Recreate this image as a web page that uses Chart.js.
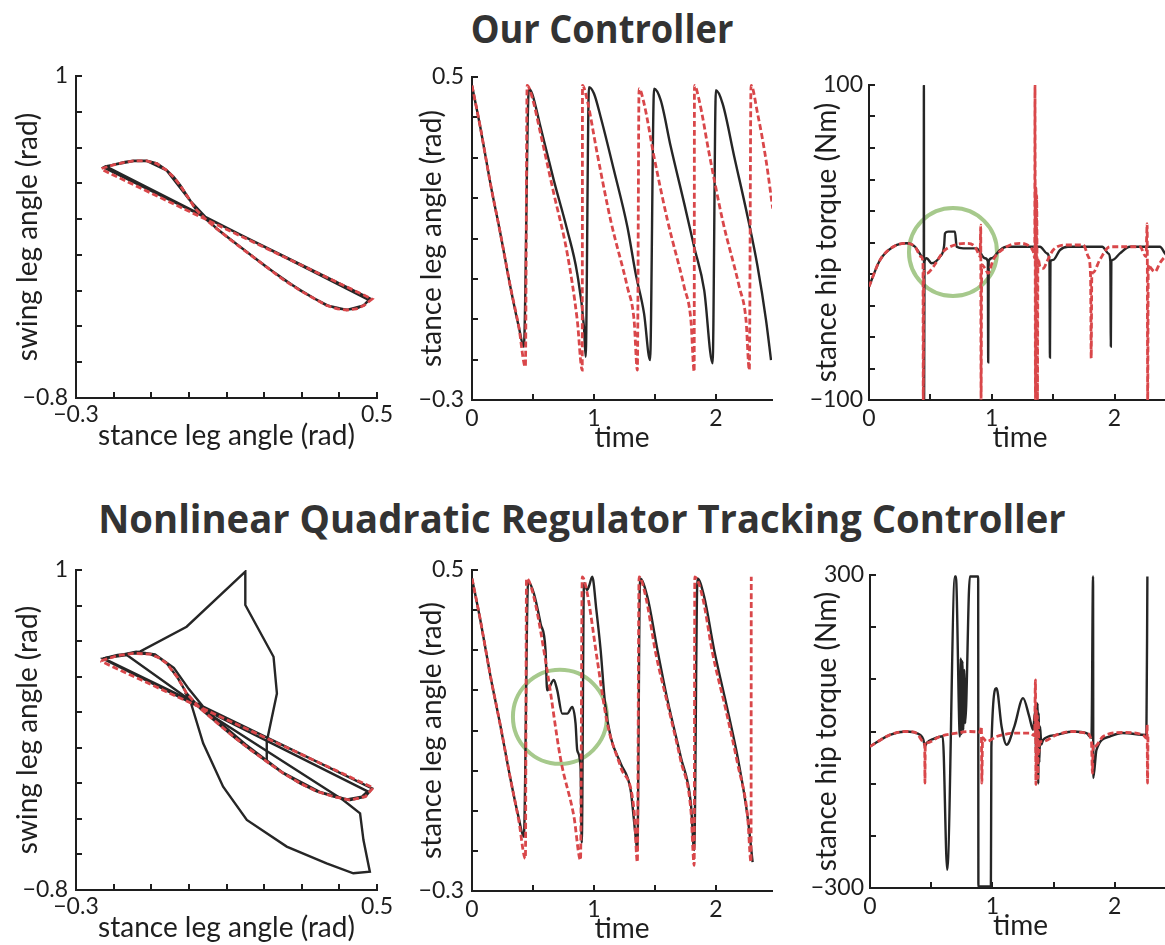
<!DOCTYPE html>
<html>
<head>
<meta charset="utf-8">
<script src="https://cdn.jsdelivr.net/npm/chart.js@4.4.1/dist/chart.umd.min.js"></script>
<style>
  html, body { margin: 0; padding: 0; background: #fff; }
  body { width: 1165px; height: 945px; overflow: hidden; position: relative; }
  canvas { position: absolute; }
  .ttl { position: absolute; white-space: nowrap; font-family: 'Open Sans', sans-serif; font-weight: 700; color: #333; line-height: 1; }
</style>
</head>
<body>
<div class="ttl" id="t1" style="left:602px; top:8px; font-size:39px; transform:translateX(-50%) scaleX(0.93);">Our Controller</div>
<div class="ttl" id="t2" style="left:582px; top:498px; font-size:39px; transform:translateX(-50%) scaleX(0.98);">Nonlinear Quadratic Regulator Tracking Controller</div>
<canvas id="c1" width="402" height="393" style="left:0px; top:60px;"></canvas>
<canvas id="c2" width="401" height="395" style="left:396px; top:60px;"></canvas>
<canvas id="c3" width="403" height="395" style="left:793px; top:60px;"></canvas>
<canvas id="c4" width="402" height="395" style="left:0px; top:550px;"></canvas>
<canvas id="c5" width="401" height="396" style="left:396px; top:550px;"></canvas>
<canvas id="c6" width="402" height="393" style="left:794px; top:550px;"></canvas>
<script>
// ---------------- DATA ----------------
// Panel 1: swing vs stance leg angle, "Our Controller"
const p1Black = [
  [-0.227,0.489],[-0.20,0.505],[-0.17,0.520],[-0.147,0.527],[-0.112,0.527],[-0.085,0.512],[-0.059,0.474],[-0.040,0.435],
  [-0.023,0.390],[0.003,0.306],[0.017,0.260],[0.045,0.200],[0.074,0.148],[0.119,0.073],[0.163,0.003],[0.207,-0.067],
  [0.250,-0.135],[0.296,-0.197],[0.335,-0.245],[0.367,-0.281],[0.395,-0.300],[0.420,-0.306],[0.445,-0.300],[0.465,-0.281],
  [0.482,-0.244],[-0.227,0.489],
  [-0.222,0.495],[-0.147,0.525],[-0.112,0.525],[-0.059,0.472],[0.003,0.304],[0.074,0.146],[0.207,-0.069],[0.296,-0.199],
  [0.367,-0.283],[0.420,-0.308],[0.465,-0.283],[0.478,-0.252],[-0.222,0.497]
];
const p1Red = [
  [-0.232,0.483],[-0.20,0.503],[-0.17,0.518],[-0.147,0.525],[-0.112,0.525],[-0.085,0.510],[-0.059,0.472],[-0.040,0.433],
  [-0.023,0.388],[0.003,0.304],[0.017,0.258],[0.045,0.198],[0.074,0.146],[0.119,0.071],[0.163,0.001],[0.207,-0.069],
  [0.250,-0.137],[0.296,-0.199],[0.335,-0.247],[0.367,-0.283],[0.395,-0.302],[0.420,-0.308],[0.445,-0.302],[0.465,-0.283],
  [0.487,-0.247],[-0.232,0.478]
];
// Panel 2: stance leg angle vs time, "Our Controller"
const p2Black = [
  [0,0.479],[0.068,0.376],[0.151,0.236],[0.233,0.112],[0.315,-0.020],[0.384,-0.119],[0.425,-0.168],
  [0.466,0.471],[0.493,0.459],[0.562,0.376],[0.671,0.244],[0.781,0.121],[0.863,0.013],[0.918,-0.119],[0.932,-0.193],
  [0.959,0.475],[1.0,0.459],[1.055,0.401],[1.164,0.269],[1.274,0.129],[1.342,0.013],[1.411,-0.086],[1.460,-0.201],
  [1.493,0.471],[1.548,0.442],[1.630,0.327],[1.740,0.187],[1.822,0.079],[1.904,-0.028],[1.973,-0.209],
  [2.0,0.467],[2.055,0.434],[2.151,0.302],[2.260,0.154],[2.342,0.030],[2.411,-0.102],[2.452,-0.201]
];
const p2Red = [
  [0,0.479],[0.068,0.376],[0.151,0.236],[0.233,0.112],[0.315,-0.020],[0.384,-0.119],[0.438,-0.218],
  [0.452,0.479],[0.493,0.450],[0.562,0.360],[0.671,0.211],[0.781,0.063],[0.863,-0.102],[0.904,-0.226],
  [0.906,0.479],[0.945,0.442],[1.027,0.310],[1.137,0.145],[1.274,-0.020],[1.329,-0.102],[1.356,-0.226],
  [1.370,0.471],[1.411,0.434],[1.493,0.302],[1.603,0.145],[1.740,-0.020],[1.795,-0.102],[1.822,-0.230],
  [1.824,0.479],[1.863,0.442],[1.945,0.310],[2.055,0.145],[2.192,-0.020],[2.247,-0.102],[2.274,-0.226],
  [2.288,0.479],[2.342,0.409],[2.411,0.294],[2.466,0.174]
];
// Panel 3: stance hip torque vs time, "Our Controller"
const p3Black = [
  [0,-28],[0.09,-11.1],[0.198,-2.7],[0.307,-0.5],[0.375,-2.7],[0.429,-9],[0.446,-11],[0.447,100],[0.449,-100],[0.452,-12],
  [0.47,-10],[0.51,-13.2],[0.578,-9],[0.612,-2],[0.619,5.8],[0.646,6.9],[0.70,6.9],[0.714,-2.7],[0.768,-3.7],[0.877,-3.7],
  [0.945,-10],[0.968,-12],[0.971,-76],[0.975,-12],[0.999,-10],[1.067,-4.8],[1.12,-2.7],[1.393,-2.7],[1.45,-7],[1.470,-12],
  [1.474,-73],[1.478,-12],[1.50,-11],[1.555,-4.8],[1.62,-2.7],[1.90,-2.7],[1.95,-7],[1.966,-12],[1.970,-66],[1.974,-12],
  [1.984,-11],[2.044,-6.9],[2.125,-2.7],[2.37,-2.7],[2.41,-6.9],[2.46,-12]
];
const p3Red = [
  [0,-28],[0.09,-11.1],[0.198,-2.7],[0.307,-0.5],[0.375,-2.7],[0.425,-9],[0.440,-14],[0.442,-100],[0.446,-18],[0.47,-19.6],
  [0.524,-15.4],[0.605,-5.8],[0.66,-2.7],[0.796,-0.5],[0.863,-2.7],[0.89,-6.9],[0.905,-9],[0.910,11],[0.913,-100],[0.918,-14],
  [0.945,-16.4],[0.97,-19.6],[1.012,-11],[1.10,-3.7],[1.23,-0.5],[1.311,-2.7],[1.338,-5.8],[1.350,-10],[1.352,100],[1.356,-100],
  [1.360,35],[1.363,-22],[1.366,30],[1.369,-20],[1.372,-100],[1.376,-10],[1.393,-15.4],[1.42,-16.4],[1.45,-12],[1.50,-4.8],
  [1.61,-1.6],[1.745,-1.6],[1.786,-9],[1.805,-21.7],[1.810,-73.5],[1.815,-21],[1.826,-19],[1.88,-11],[1.962,-2.7],[2.207,-2.7],
  [2.256,-9],[2.266,12],[2.270,-100],[2.275,-14],[2.288,-15.4],[2.329,-18.6],[2.37,-13],[2.41,-9],[2.46,-5]
];
const p3Circle = [[0.684,-6]];
// Panel 4: swing vs stance leg angle, NQR controller
const p4Black1 = [
  [-0.227,0.503],[-0.19,0.522],[-0.147,0.531],[-0.103,0.527],[-0.080,0.507],[-0.059,0.475],[-0.030,0.395],[-0.006,0.306],
  [0.030,0.222],[0.075,0.140],[0.119,0.062],[0.163,-0.010],[0.207,-0.078],[0.250,-0.142],[0.296,-0.2],[0.340,-0.245],
  [0.385,-0.275],[0.429,-0.294],[0.469,-0.275],[0.487,-0.228],[-0.227,0.503],
  [-0.14,0.54],[-0.09,0.525],[-0.04,0.45],[0.0,0.33],[0.05,0.2],[0.15,0.02],[0.25,-0.14],[0.35,-0.25],[0.42,-0.29],
  [0.46,-0.275],[0.475,-0.245],[-0.227,0.50]
];
const p4Black2 = [
  [-0.227,0.503],[-0.130,0.541],[-0.006,0.681],[0.150,0.991],[0.150,0.803],[0.225,0.512],[0.234,0.306],[0.207,0.034],[0.207,-0.078]
];
const p4Black3 = [
  [-0.227,0.503],[-0.165,0.522],[0.065,0.175],[0.41,-0.294],[0.455,-0.369],[0.464,-0.519],[0.481,-0.697],[0.437,-0.706],
  [0.366,-0.65],[0.26,-0.556],[0.154,-0.406],[0.091,-0.219],[0.038,0.025],[0.003,0.269],[-0.01,0.31]
];
const p4Red = [
  [-0.232,0.49],[-0.19,0.518],[-0.147,0.531],[-0.103,0.527],[-0.080,0.507],[-0.059,0.475],[-0.030,0.395],[-0.006,0.306],
  [0.030,0.222],[0.075,0.140],[0.119,0.062],[0.163,-0.010],[0.207,-0.078],[0.250,-0.142],[0.296,-0.2],[0.340,-0.245],
  [0.385,-0.275],[0.429,-0.294],[0.469,-0.275],[0.49,-0.225],[-0.235,0.488]
];
// Panel 5: stance leg angle vs time, NQR controller
const p5Black = [
  [0,0.479],[0.068,0.376],[0.151,0.236],[0.233,0.112],[0.315,-0.020],[0.384,-0.119],[0.425,-0.165],
  [0.46,0.471],[0.507,0.442],[0.562,0.367],[0.603,0.30],[0.616,0.20],[0.671,0.226],[0.699,0.2],[0.74,0.142],[0.781,0.142],
  [0.822,0.159],[0.849,0.118],[0.863,0.051],[0.89,0.009],[0.90,-0.18],
  [0.918,0.467],[0.945,0.45],[0.96,0.46],[0.986,0.483],[1.02,0.40],[1.055,0.30],[1.09,0.17],[1.137,0.084],[1.219,0.018],
  [1.301,-0.049],[1.342,-0.165],[1.356,-0.198],
  [1.378,0.479],[1.438,0.433],[1.521,0.30],[1.603,0.176],[1.712,0.034],[1.795,-0.082],[1.822,-0.198],
  [1.849,0.479],[1.904,0.433],[1.986,0.30],[2.096,0.151],[2.178,0.034],[2.26,-0.115],[2.301,-0.228]
];
const p5Red = [
  [0,0.479],[0.068,0.376],[0.151,0.236],[0.233,0.112],[0.315,-0.020],[0.384,-0.125],[0.438,-0.219],
  [0.447,0.479],[0.507,0.433],[0.616,0.25],[0.726,0.03],[0.836,-0.115],[0.89,-0.223],
  [0.904,0.483],[0.945,0.442],[1.027,0.276],[1.11,0.117],[1.219,0.009],[1.329,-0.099],[1.356,-0.228],
  [1.37,0.483],[1.425,0.433],[1.507,0.292],[1.603,0.167],[1.712,0.025],[1.795,-0.099],[1.822,-0.236],
  [1.827,0.483],[1.89,0.433],[1.973,0.292],[2.082,0.151],[2.178,0.017],[2.26,-0.115],[2.288,-0.228],[2.29,0.483]
];
const p5Circle = [[0.721,0.134]];
// Panel 6: stance hip torque vs time, NQR controller
const p6Black = [
  [0,-28.8],[0.163,-6.4],[0.299,0],[0.381,-3.2],[0.435,-15],[0.449,-28],[0.463,-22],[0.52,-14],[0.594,-9],[0.631,-265],
  [0.694,297],[0.702,297],[0.735,-9.6],[0.742,140],[0.748,-5],[0.755,135],[0.762,3],[0.770,118],[0.778,16],[0.816,297],
  [0.884,297],[0.886,-297],[0.988,-297],[0.992,-30],[1.034,83],[1.075,10],[1.116,-25.5],[1.18,10],[1.251,64],[1.30,30],
  [1.333,3.2],[1.35,40],[1.36,-60],[1.369,54],[1.375,-100],[1.378,35],[1.384,-60],[1.39,9.5],[1.40,-25],[1.415,-16],
  [1.524,-6.4],[1.66,0],[1.769,-3.2],[1.81,-12],[1.823,297],[1.825,-89],[1.851,-35],[1.959,-9.6],[2.065,-3],[2.259,-6.4],[2.267,297]
];
const p6Red = [
  [0,-28.8],[0.163,-6.4],[0.299,0],[0.381,-3.2],[0.435,-19],[0.447,-25],[0.449,-99],[0.452,-25],[0.463,-22],[0.571,-9.6],
  [0.707,-3.2],[0.816,0],[0.90,-1],[0.91,9.5],[0.914,-99],[0.92,-12],[0.952,-19],[1.034,-9.6],[1.197,-3.2],[1.306,-3.2],
  [1.345,-8],[1.352,99],[1.356,-102],[1.36,40],[1.364,-60],[1.368,30],[1.372,-90],[1.376,20],[1.38,-40],[1.39,-20],
  [1.415,-19],[1.524,-6.4],[1.66,0],[1.769,-3.2],[1.81,-19],[1.818,-80],[1.824,-25],[1.837,-28.7],[1.905,-9.6],[2.068,-1.9],
  [2.231,-6.4],[2.259,-12.8],[2.265,12.8],[2.268,-99],[2.272,-10]
];
// Axis ranges and tick steps
const angleX = {min: -0.3, max: 0.5, step: 0.1};
const swingY = {min: -0.8, max: 1, step: 0.2};
const timeX = {min: 0, max: 2.46, step: 0.5};
const stanceY = {min: -0.3, max: 0.5, step: 0.1};
const torqueY1 = {min: -100, max: 100, step: 20};
const torqueY2 = {min: -300, max: 300, step: 100};

// ---------------- STYLE ----------------
const FONT = "Lato, 'Open Sans', sans-serif";
const AX = '#1e1e1e';
const BLACK = '#262626';
const RED = '#d9474a';
const GREEN = '#a6c98c';
const TICK_LEN = 6;

const fmt = v => String(+(+v).toFixed(3)).replace('-', '\u2212');
const endsOnly = r => (v) => (Math.abs(v - r.min) < 1e-9 || Math.abs(v - r.max) < 1e-9) ? fmt(v) : '';
const integersOnly = (v) => Math.abs(v - Math.round(v)) < 1e-9 ? fmt(v) : '';

function axis(r, isX, title, box, gap, titlePad, labelFn) {
  return {
    type: 'linear', position: isX ? 'bottom' : 'left',
    min: r.min, max: r.max,
    border: {display: true, color: AX, width: 2},
    grid: {display: true, drawOnChartArea: false, drawTicks: true, tickLength: -TICK_LEN, color: AX, lineWidth: 2},
    ticks: {
      stepSize: r.step, autoSkip: false, includeBounds: false, maxRotation: 0, minRotation: 0,
      padding: gap + TICK_LEN, color: AX, font: {family: FONT, size: 23}, callback: labelFn
    },
    title: {
      display: true, text: title, color: AX, font: {family: FONT, size: 28},
      padding: isX ? {top: 0, bottom: titlePad} : {top: titlePad, bottom: 0}
    },
    afterFit: s => {
      if (isX) s.height = box; else s.width = box;
      s.paddingLeft = 0; s.paddingRight = 0; s.paddingTop = 0; s.paddingBottom = 0;
    }
  };
}

const pts = arr => arr.map(([x, y]) => ({x, y}));
const blackDs = (arr, smooth) => ({data: pts(arr), showLine: true, borderColor: BLACK, borderWidth: 2.4, pointRadius: 0,
  tension: 0, cubicInterpolationMode: smooth ? 'monotone' : 'default', fill: false});
const redDs = (arr, smooth) => ({data: pts(arr), showLine: true, borderColor: RED, borderWidth: 2.8, borderDash: [6, 3], pointRadius: 0,
  tension: 0, cubicInterpolationMode: smooth ? 'monotone' : 'default', fill: false});
const circleDs = (arr, r) => ({data: pts(arr), showLine: false, pointRadius: r, pointHoverRadius: r, pointStyle: 'circle',
  pointBorderColor: GREEN, pointBackgroundColor: 'rgba(0,0,0,0)', pointBorderWidth: 4, clip: false});

function make(id, padTop, datasets, xAx, yAx) {
  new Chart(document.getElementById(id), {
    type: 'scatter',
    data: {datasets},
    options: {
      responsive: false, animation: false, events: [],
      layout: {autoPadding: false, padding: {top: padTop, right: 25, left: 0, bottom: 0}},
      plugins: {legend: {display: false}, tooltip: {enabled: false}},
      scales: {x: xAx, y: yAx}
    }
  });
}

make('c1', 16, [redDs(p1Red), blackDs(p1Black)],
  axis(angleX, true, 'stance leg angle (rad)', 55, 3, 0, endsOnly(angleX)),
  axis(swingY, false, 'swing leg angle (rad)', 76, 8, 11, endsOnly(swingY)));
make('c2', 17, [redDs(p2Red, true), blackDs(p2Black, true)],
  axis(timeX, true, 'time', 55, 5, 0, integersOnly),
  axis(stanceY, false, 'stance leg angle (rad)', 76, 8, 19, endsOnly(stanceY)));
make('c3', 25, [redDs(p3Red, true), blackDs(p3Black, true), circleDs(p3Circle, 44)],
  axis(timeX, true, 'time', 55, 5, 0, integersOnly),
  axis(torqueY1, false, 'stance hip torque (Nm)', 76, 6, 17, endsOnly(torqueY1)));
make('c4', 20, [redDs(p4Red), blackDs(p4Black1), blackDs(p4Black2), blackDs(p4Black3)],
  axis(angleX, true, 'stance leg angle (rad)', 55, 3, 0, endsOnly(angleX)),
  axis(swingY, false, 'swing leg angle (rad)', 76, 8, 11, endsOnly(swingY)));
make('c5', 20, [redDs(p5Red, true), blackDs(p5Black, true), circleDs(p5Circle, 47)],
  axis(timeX, true, 'time', 55, 5, 0, integersOnly),
  axis(stanceY, false, 'stance leg angle (rad)', 76, 8, 19, endsOnly(stanceY)));
make('c6', 25, [redDs(p6Red, true), blackDs(p6Black, true)],
  axis(timeX, true, 'time', 55, 5, 0, integersOnly),
  axis(torqueY2, false, 'stance hip torque (Nm)', 76, 6, 16, endsOnly(torqueY2)));
</script>
</body>
</html>
